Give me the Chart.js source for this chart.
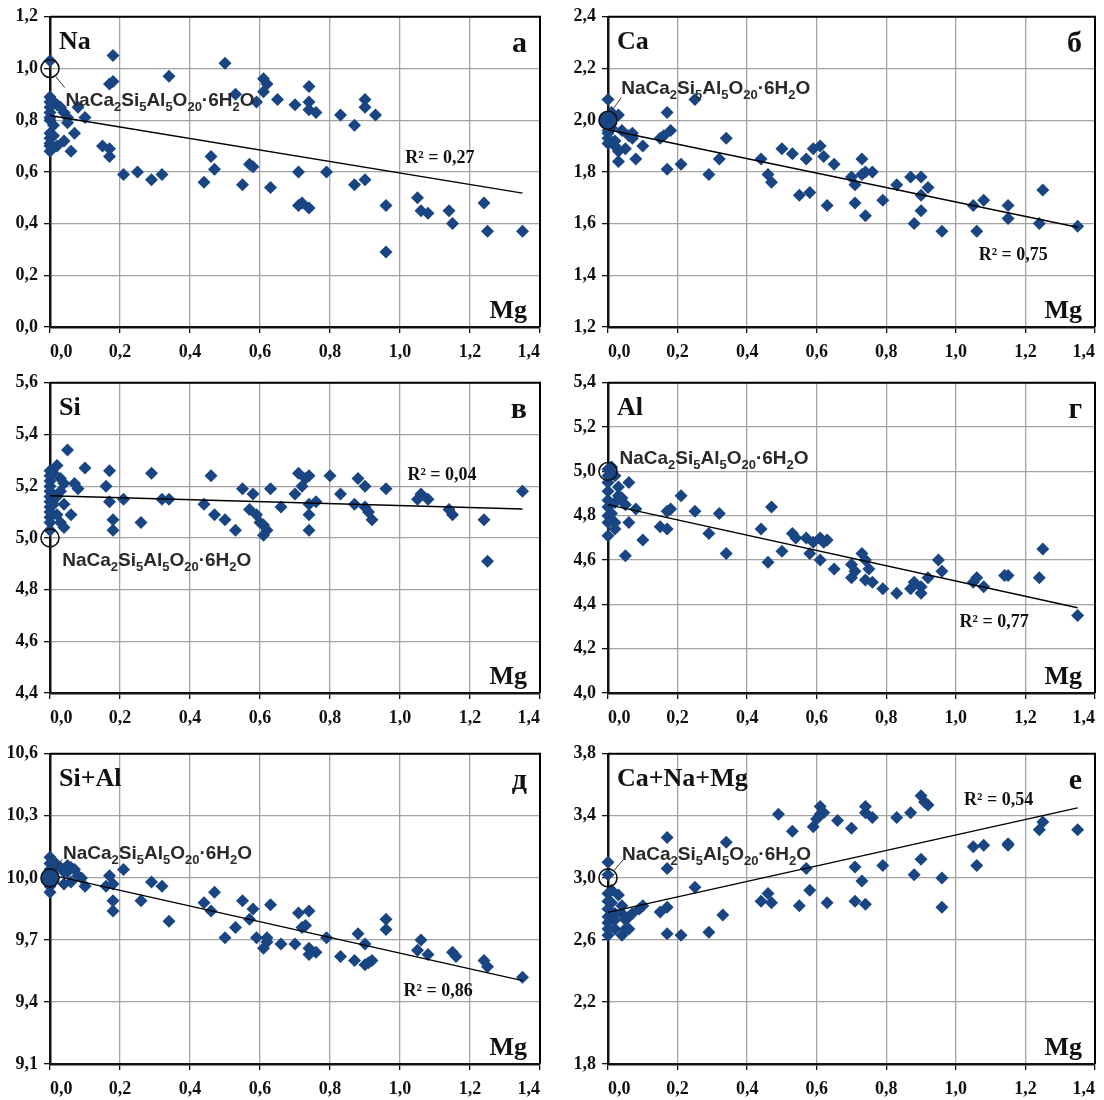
<!DOCTYPE html>
<html>
<head>
<meta charset="utf-8">
<script src="https://cdn.jsdelivr.net/npm/chart.js@4"></script>
<style>
  body { margin: 0; background: #fff; width: 1104px; height: 1100px; position: relative; overflow: hidden; }
  canvas { position: absolute; }
</style>
</head>
<body>
<script>
// Mg (x) and element values (y)
const naPoints = [
  [0,1.03],[0,0.89],[0,0.87],[0,0.85],[0,0.83],[0,0.81],[0,0.80],[0,0.75],[0,0.73],[0,0.71],[0,0.70],[0,0.68],
  [0.01,0.87],[0.02,0.86],[0.03,0.85],[0.04,0.83],[0.05,0.81],[0.01,0.78],[0.07,0.75],[0.04,0.72],[0.06,0.68],
  [0.08,0.85],[0.10,0.81],[0.05,0.79],[0.01,0.74],[0.02,0.70],
  [0.18,1.05],[0.18,0.95],[0.17,0.94],[0.15,0.70],[0.17,0.69],[0.17,0.66],[0.21,0.59],[0.25,0.60],[0.29,0.57],
  [0.32,0.59],[0.34,0.97],[0.44,0.56],[0.46,0.66],[0.47,0.61],[0.50,1.02],[0.53,0.90],[0.55,0.55],[0.57,0.63],
  [0.58,0.62],[0.59,0.87],[0.61,0.96],[0.62,0.94],[0.61,0.91],[0.63,0.54],[0.65,0.88],[0.70,0.86],[0.71,0.60],
  [0.71,0.47],[0.72,0.48],[0.74,0.46],[0.74,0.93],[0.74,0.87],[0.74,0.84],[0.76,0.83],[0.79,0.60],[0.83,0.82],
  [0.87,0.78],[0.87,0.55],[0.90,0.57],[0.90,0.88],[0.90,0.85],[0.93,0.82],[0.96,0.47],[0.96,0.29],[1.05,0.50],
  [1.06,0.45],[1.08,0.44],[1.14,0.45],[1.15,0.40],[1.24,0.48],[1.25,0.37],[1.35,0.37]
];
const caPoints = [
  [0,2.08],[0,1.98],[0,1.96],[0,1.93],[0,1.91],[0,1.95],
  [0.01,2.03],[0.03,2.02],[0.02,1.90],[0.03,1.88],[0.03,1.84],[0.05,1.89],[0.04,1.96],[0.06,1.94],[0.07,1.93],
  [0.07,1.95],[0.08,1.85],[0.10,1.90],[0.02,1.92],[0.01,1.97],
  [0.15,1.93],[0.16,1.94],[0.18,1.96],[0.17,2.03],[0.17,1.81],[0.21,1.83],[0.25,2.08],[0.29,1.79],[0.32,1.85],
  [0.34,1.93],[0.44,1.85],[0.46,1.79],[0.47,1.76],[0.50,1.89],[0.53,1.87],[0.55,1.71],[0.57,1.85],[0.58,1.72],
  [0.59,1.89],[0.61,1.90],[0.62,1.86],[0.63,1.67],[0.65,1.83],[0.70,1.78],[0.71,1.75],[0.71,1.68],[0.73,1.85],
  [0.73,1.79],[0.74,1.80],[0.76,1.80],[0.74,1.63],[0.79,1.69],[0.83,1.75],[0.87,1.78],[0.88,1.60],[0.90,1.78],
  [0.90,1.71],[0.90,1.65],[0.92,1.74],[0.96,1.57],[1.05,1.67],[1.06,1.57],[1.08,1.69],[1.15,1.62],[1.15,1.67],
  [1.24,1.60],[1.25,1.73],[1.35,1.59]
];
const siPoints = [
  [0,5.26],[0,5.24],[0,5.22],[0,5.20],[0,5.18],[0,5.16],[0,5.14],[0,5.12],[0,5.10],[0,5.08],[0,5.06],[0,5.03],
  [0.02,5.28],[0.01,5.25],[0.03,5.23],[0.04,5.21],[0.03,5.18],[0.02,5.16],[0.01,5.13],[0.02,5.09],[0.03,5.06],
  [0.04,5.04],[0.05,5.34],[0.04,5.13],[0.06,5.09],[0.07,5.21],[0.08,5.19],[0.10,5.27],
  [0.16,5.20],[0.17,5.26],[0.17,5.14],[0.18,5.07],[0.18,5.03],[0.21,5.15],[0.26,5.06],[0.29,5.25],[0.32,5.15],
  [0.34,5.15],[0.44,5.13],[0.46,5.24],[0.47,5.09],[0.50,5.07],[0.53,5.03],[0.55,5.19],[0.57,5.11],[0.58,5.17],
  [0.59,5.09],[0.60,5.06],[0.61,5.01],[0.62,5.03],[0.61,5.05],[0.63,5.19],[0.66,5.12],[0.70,5.17],[0.71,5.25],
  [0.72,5.20],[0.73,5.23],[0.74,5.24],[0.74,5.13],[0.74,5.09],[0.74,5.03],[0.76,5.14],[0.80,5.24],[0.83,5.17],
  [0.87,5.13],[0.88,5.23],[0.90,5.20],[0.90,5.12],[0.91,5.10],[0.92,5.07],[0.96,5.19],[1.05,5.15],[1.06,5.17],
  [1.08,5.15],[1.14,5.11],[1.15,5.09],[1.24,5.07],[1.25,4.91],[1.35,5.18]
];
const alPoints = [
  [0,5.01],[0,4.98],[0,4.95],[0,4.91],[0,4.87],[0,4.84],[0,4.80],[0,4.77],[0,4.71],
  [0.01,5.02],[0.02,4.98],[0.03,4.93],[0.03,4.89],[0.02,4.86],[0.01,4.81],[0.02,4.77],[0.02,4.74],[0.06,4.95],
  [0.04,4.88],[0.05,4.85],[0.08,4.83],[0.05,4.62],[0.06,4.77],[0.10,4.69],
  [0.15,4.75],[0.17,4.74],[0.17,4.82],[0.18,4.83],[0.21,4.89],[0.25,4.82],[0.29,4.72],[0.32,4.81],[0.34,4.63],
  [0.44,4.74],[0.46,4.59],[0.47,4.84],[0.50,4.64],[0.53,4.72],[0.54,4.70],[0.57,4.70],[0.58,4.63],[0.59,4.68],
  [0.61,4.70],[0.61,4.60],[0.62,4.68],[0.63,4.69],[0.65,4.56],[0.70,4.58],[0.70,4.52],[0.71,4.55],[0.73,4.63],
  [0.74,4.60],[0.75,4.56],[0.74,4.51],[0.76,4.50],[0.79,4.47],[0.83,4.45],[0.87,4.47],[0.88,4.50],[0.90,4.48],
  [0.90,4.45],[0.92,4.52],[0.95,4.60],[0.96,4.55],[1.05,4.50],[1.06,4.52],[1.08,4.48],[1.14,4.53],[1.15,4.53],
  [1.24,4.52],[1.25,4.65],[1.35,4.35]
];
const sialPoints = [
  [0,10.10],[0,10.07],[0,10.04],[0,10.00],[0,9.98],[0,9.96],[0,9.93],
  [0.01,10.08],[0.02,10.06],[0.03,10.05],[0.04,10.03],[0.05,10.06],[0.04,9.97],[0.05,10.03],[0.06,10.05],
  [0.07,10.04],[0.06,9.98],[0.08,10.01],[0.09,10.00],[0.10,9.96],
  [0.16,9.96],[0.17,10.01],[0.18,9.89],[0.18,9.97],[0.18,9.84],[0.21,10.04],[0.26,9.89],[0.29,9.98],[0.32,9.96],
  [0.34,9.79],[0.44,9.88],[0.46,9.84],[0.47,9.93],[0.50,9.71],[0.53,9.76],[0.55,9.89],[0.57,9.80],[0.58,9.85],
  [0.59,9.71],[0.61,9.66],[0.62,9.71],[0.62,9.69],[0.63,9.87],[0.66,9.68],[0.70,9.68],[0.71,9.83],[0.72,9.76],
  [0.73,9.77],[0.74,9.84],[0.74,9.66],[0.74,9.63],[0.76,9.64],[0.79,9.71],[0.83,9.62],[0.87,9.60],[0.88,9.73],
  [0.90,9.68],[0.90,9.58],[0.91,9.59],[0.92,9.60],[0.96,9.80],[0.96,9.75],[1.05,9.65],[1.06,9.70],[1.08,9.63],
  [1.15,9.64],[1.16,9.62],[1.24,9.60],[1.25,9.57],[1.35,9.52]
];
const sumPoints = [
  [0,3.10],[0,3.02],[0,2.90],[0,2.85],[0,2.80],[0,2.75],[0,2.71],[0,2.67],[0,2.63],
  [0.01,2.92],[0.01,2.84],[0.02,2.77],[0.02,2.73],[0.02,2.67],[0.03,2.89],[0.04,2.82],[0.04,2.77],[0.05,2.73],
  [0.04,2.63],[0.05,2.67],[0.06,2.67],[0.06,2.75],[0.07,2.77],[0.09,2.80],[0.10,2.82],
  [0.15,2.78],[0.17,2.81],[0.17,3.06],[0.17,3.26],[0.17,2.64],[0.21,2.63],[0.25,2.94],[0.29,2.65],[0.33,2.76],
  [0.34,3.23],[0.44,2.85],[0.46,2.90],[0.47,2.84],[0.49,3.41],[0.53,3.30],[0.55,2.82],[0.57,3.06],[0.58,2.92],
  [0.59,3.33],[0.60,3.38],[0.61,3.46],[0.61,3.41],[0.62,3.42],[0.63,2.84],[0.66,3.37],[0.70,3.32],[0.71,2.85],
  [0.71,3.07],[0.73,2.98],[0.74,3.46],[0.74,3.42],[0.76,3.39],[0.74,2.83],[0.79,3.08],[0.83,3.39],[0.87,3.42],
  [0.88,3.02],[0.90,3.12],[0.90,3.53],[0.91,3.49],[0.92,3.47],[0.96,3.00],[0.96,2.81],[1.05,3.20],[1.06,3.08],
  [1.08,3.21],[1.15,3.21],[1.15,3.22],[1.24,3.31],[1.25,3.36],[1.35,3.31]
];

// linear trend ends (Mg = 0 and 1.35)
const trendMg = [0, 1.35];
const naTrend = [0.818, 0.518];
const caTrend = [1.963, 1.586];
const siTrend = [5.163, 5.112];
const alTrend = [4.85, 4.385];
const sialTrend = [10.016, 9.503];
const sumTrend = [2.778, 3.451];

const mgTicks = [0, 1.4, 0.2];
const blue = '#1a4583';
const serif = '"Liberation Serif", "Times New Roman", serif';
const sans = '"Liberation Sans", Arial, sans-serif';
const formulaParts = [['NaCa',0],['2',1],['Si',0],['5',1],['Al',0],['5',1],['O',0],['20',1],['\u00b76H',0],['2',1],['O',0]];

const panels = [
  { name: 'Na', letter: 'а', pts: naPoints, trend: naTrend, y: [0, 1.2, 0.2], ref: 1.0, col: 0, row: 0,
    r2: 'R\u00b2 = 0,27', r2At: [1.114, 0.653], fAt: [0.044, 0.882], lead: [[0.017, 0.968], [0.042, 0.926]], refFill: 'rgba(0,0,0,0)' },
  { name: 'Ca', letter: 'б', pts: caPoints, trend: caTrend, y: [1.2, 2.4, 0.2], ref: 2.0, col: 1, row: 0,
    r2: 'R\u00b2 = 0,75', r2At: [1.165, 1.478], fAt: [0.038, 2.13], lead: [[0.016, 2.046], [0.038, 2.087]], refFill: blue },
  { name: 'Si', letter: 'в', pts: siPoints, trend: siTrend, y: [4.4, 5.6, 0.2], ref: 5.0, col: 0, row: 1,
    r2: 'R\u00b2 = 0,04', r2At: [1.12, 5.243], fAt: [0.035, 4.92], lead: null, refFill: 'rgba(0,0,0,0)' },
  { name: 'Al', letter: 'г', pts: alPoints, trend: alTrend, y: [4.0, 5.4, 0.2], ref: 5.0, col: 1, row: 1,
    r2: 'R\u00b2 = 0,77', r2At: [1.11, 4.318], fAt: [0.033, 5.065], lead: null, refFill: 'rgba(0,0,0,0)' },
  { name: 'Si+Al', letter: 'д', pts: sialPoints, trend: sialTrend, y: [9.1, 10.6, 0.3], ref: 10.0, col: 0, row: 2,
    r2: 'R\u00b2 = 0,86', r2At: [1.109, 9.449], fAt: [0.037, 10.124], lead: [[0.012, 10.04], [0.035, 10.09]], refFill: blue },
  { name: 'Ca+Na+Mg', letter: 'е', pts: sumPoints, trend: sumTrend, y: [1.8, 3.8, 0.4], ref: 3.0, col: 1, row: 2,
    r2: 'R\u00b2 = 0,54', r2At: [1.123, 3.497], fAt: [0.04, 3.159], lead: [[0.018, 3.049], [0.046, 3.123]], refFill: 'rgba(0,0,0,0)' }
];

const cols = [
  { left: 0, width: 552, yW: 50, padRight: 12 },
  { left: 556, width: 548, yW: 52, padRight: 6 }
];
const rows = [
  { top: 0, height: 366, xH: 39 },
  { top: 366, height: 366, xH: 39 },
  { top: 737, height: 363, xH: 36 }
];

function comma(v) {
  return v.toFixed(1).replace('.', ',');
}

function drawFormula(ctx, x, y) {
  let cx = x;
  formulaParts.forEach(([t, sub]) => {
    ctx.font = sub ? 'bold 13px ' + sans : 'bold 19px ' + sans;
    ctx.fillText(t, cx, sub ? y + 5 : y);
    cx += ctx.measureText(t).width;
  });
}

function makePanel(p) {
  const c = cols[p.col], r = rows[p.row];
  const canvas = document.createElement('canvas');
  canvas.width = c.width;
  canvas.height = r.height;
  canvas.style.left = c.left + 'px';
  canvas.style.top = r.top + 'px';
  document.body.appendChild(canvas);

  const notes = {
    id: 'notes' + p.col + p.row,
    beforeDatasetsDraw(chart) {
      const { ctx, chartArea: a } = chart;
      ctx.save();
      ctx.strokeStyle = '#000';
      ctx.lineWidth = 2;
      ctx.beginPath();
      ctx.moveTo(a.left, a.top);
      ctx.lineTo(a.right, a.top);
      ctx.lineTo(a.right, a.bottom);
      ctx.stroke();
      ctx.restore();
    },
    afterDatasetsDraw(chart) {
      const { ctx, chartArea: a, scales } = chart;
      const px = v => scales.x.getPixelForValue(v);
      const py = v => scales.y.getPixelForValue(v);
      ctx.save();
      ctx.fillStyle = '#111';
      ctx.textBaseline = 'alphabetic';
      ctx.font = 'bold 26px ' + serif;
      ctx.textAlign = 'left';
      ctx.fillText(p.name, a.left + 9, a.top + 32);
      ctx.textAlign = 'right';
      ctx.fillText('Mg', a.right - 13, a.bottom - 9);
      ctx.font = 'bold 30px ' + serif;
      ctx.fillText(p.letter, a.right - 13, a.top + 35);

      ctx.textAlign = 'center';
      ctx.textBaseline = 'middle';
      ctx.font = 'bold 18px ' + serif;
      ctx.fillText(p.r2, px(p.r2At[0]), py(p.r2At[1]));

      ctx.textAlign = 'left';
      ctx.textBaseline = 'alphabetic';
      ctx.fillStyle = '#2a2a2a';
      drawFormula(ctx, px(p.fAt[0]), py(p.fAt[1]) + 7);

      if (p.lead) {
        ctx.strokeStyle = '#333';
        ctx.lineWidth = 1;
        ctx.beginPath();
        ctx.moveTo(px(p.lead[0][0]), py(p.lead[0][1]));
        ctx.lineTo(px(p.lead[1][0]), py(p.lead[1][1]));
        ctx.stroke();
      }
      ctx.restore();
    }
  };

  const tickFont = { family: serif, size: 18, weight: 'bold' };

  new Chart(canvas, {
    type: 'scatter',
    data: {
      datasets: [
        {
          data: [{ x: 0, y: p.ref }],
          pointStyle: 'circle', pointRadius: 9, borderWidth: 1.6,
          borderColor: '#111', backgroundColor: p.refFill, clip: false
        },
        {
          data: trendMg.map((x, i) => ({ x, y: p.trend[i] })),
          showLine: true, borderColor: '#000', borderWidth: 1.4, pointRadius: 0, clip: false
        },
        {
          data: p.pts.map(([x, y]) => ({ x, y })),
          pointStyle: 'rectRot', pointRadius: 6.5, borderWidth: 0,
          backgroundColor: blue, borderColor: blue, clip: false
        }
      ]
    },
    options: {
      responsive: false,
      animation: false,
      layout: { autoPadding: false, padding: { left: 0, right: c.padRight, top: 15, bottom: 0 } },
      plugins: { legend: { display: false }, tooltip: { enabled: false } },
      scales: {
        x: {
          type: 'linear', min: mgTicks[0], max: mgTicks[1],
          ticks: { stepSize: mgTicks[2], callback: comma, font: tickFont, color: '#111', padding: 9,
                   align: 'inner', maxRotation: 0, autoSkip: false },
          grid: { color: '#a3a3a3', lineWidth: 1.3, tickLength: 6, tickColor: '#111' },
          border: { color: '#111', width: 2.5 },
          afterFit(s) { s.height = r.xH; }
        },
        y: {
          type: 'linear', min: p.y[0], max: p.y[1],
          ticks: { stepSize: p.y[2], callback: comma, font: tickFont, color: '#111', padding: 6 },
          grid: { color: '#a3a3a3', lineWidth: 1.3, tickLength: 6, tickColor: '#111' },
          border: { color: '#111', width: 2.5 },
          afterFit(s) { s.width = c.yW; }
        }
      }
    },
    plugins: [notes]
  });
}

panels.forEach(makePanel);
</script>
</body>
</html>
